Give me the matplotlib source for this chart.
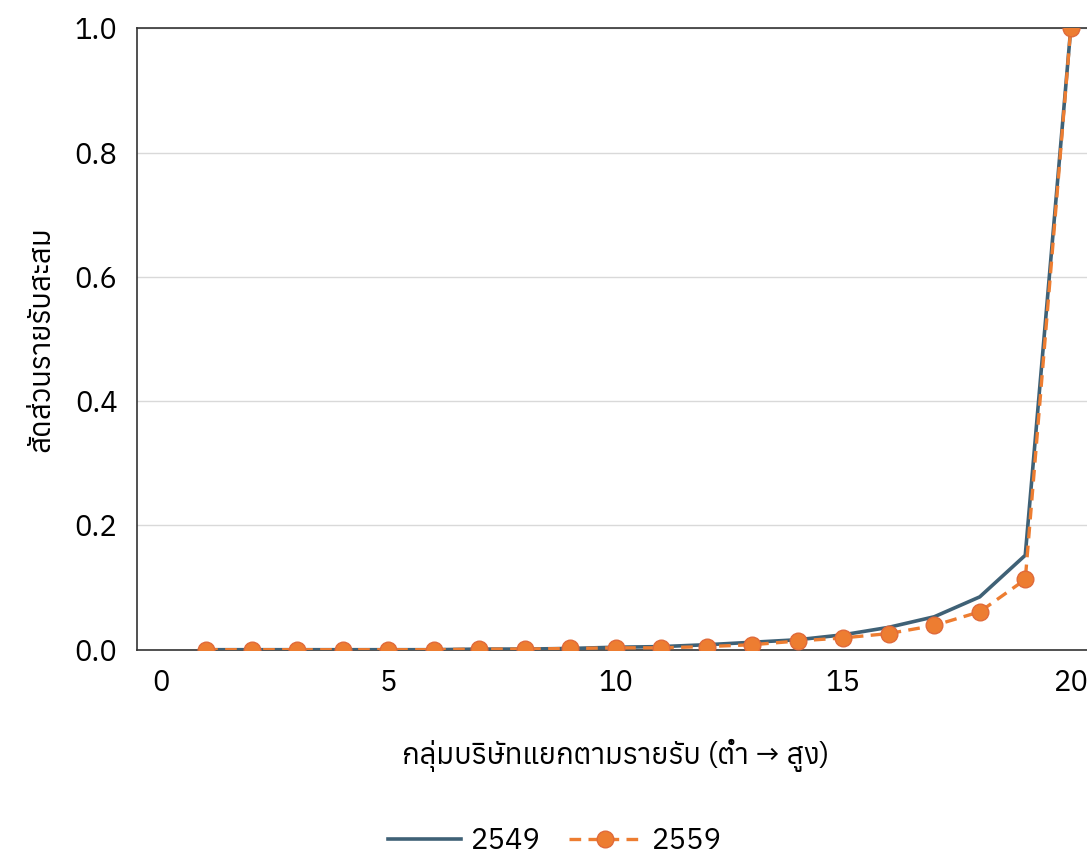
import numpy as np
import matplotlib
matplotlib.use("Agg")
import matplotlib.pyplot as plt

plt.rcParams['font.family'] = ['Anuphan', 'DejaVu Sans']

# Cumulative revenue share by company group (low -> high)
groups = list(range(1, 21))
share_2549 = [0.0, 0.0, 0.0, 0.0, 0.0, 0.0, 0.001, 0.001, 0.002, 0.004,
              0.005, 0.008, 0.012, 0.016, 0.024, 0.036, 0.053, 0.085, 0.152, 1.0]
share_2559 = [0.0, 0.0, 0.0, 0.0, 0.0, 0.0, 0.001, 0.001, 0.002, 0.003,
              0.003, 0.005, 0.008, 0.014, 0.019, 0.026, 0.039, 0.061, 0.113, 1.0]
series_labels = ['2549', '2559']

xticks = [0, 5, 10, 15, 20]
yticks = [0.0, 0.2, 0.4, 0.6, 0.8, 1.0]

fig = plt.figure(figsize=(10.87, 8.56), dpi=100)
ax = fig.add_axes([0.126, 0.241, 0.88, 0.726])

ax.plot(groups, share_2549, color='#3f6176', linewidth=2.6, label=series_labels[0], zorder=3)
ax.plot(groups, share_2559, color='#ed7d31', linewidth=2.4, linestyle=(0, (3.5, 2.2)),
        marker='o', markersize=12, markerfacecolor='#ed7d31', markeredgecolor='#e06a3a',
        markeredgewidth=1, label=series_labels[1], zorder=4)

ax.set_xlim(-0.52, 20.5)
ax.set_ylim(0, 1.0)
ax.set_xticks(xticks)
ax.set_yticks(yticks)
ax.set_yticklabels([f'{v:.1f}' for v in yticks])
ax.tick_params(length=0, labelsize=21, pad=14)
ax.grid(axis='y', color='#d9d9d9', linewidth=1)
ax.set_axisbelow(True)

for side in ['left', 'top', 'bottom']:
    ax.spines[side].set_color('#333333')
    ax.spines[side].set_linewidth(1.2)
ax.spines['right'].set_visible(False)

ax.set_xlabel('กลุ่มบริษัทแยกตามรายรับ (ต่ำ → สูง)', fontsize=21, labelpad=30)
ax.set_ylabel('สัดส่วนรายรับสะสม', fontsize=21, labelpad=14)

fig.legend(loc='lower center', bbox_to_anchor=(0.51, -0.03), ncol=2, frameon=False,
           fontsize=21, handlelength=2.5, columnspacing=1.0, handletextpad=0.3)

fig.savefig('out.png', dpi=100)
